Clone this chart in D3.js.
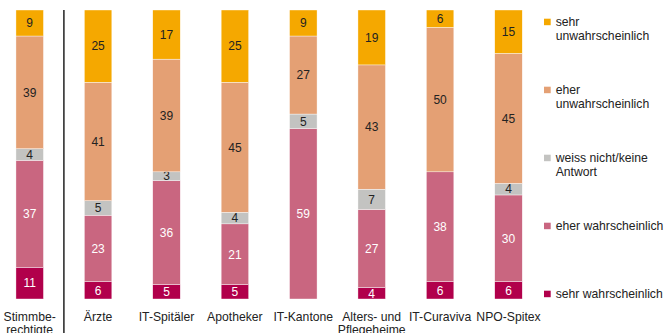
<!DOCTYPE html>
<html>
<head>
<meta charset="utf-8">
<script src="https://cdn.jsdelivr.net/npm/d3@7"></script>
<style>
  html, body { margin: 0; padding: 0; background: #fff; }
  svg { display: block; font-family: "Liberation Sans", Arial, sans-serif; }
</style>
</head>
<body>
<svg id="chart" width="667" height="333"></svg>
<script>
// Groups (two-line labels split with "\n")
const categories = [
  "Stimmbe-\nrechtigte", "Ärzte", "IT-Spitäler", "Apotheker",
  "IT-Kantone", "Alters- und\nPflegeheime", "IT-Curaviva", "NPO-Spitex"
];

// Answer shares in percent, one array per answer
const sehrWahrscheinlich   = [11, 6, 5, 5, 0, 4, 6, 6];
const eherWahrscheinlich   = [37, 23, 36, 21, 59, 27, 38, 30];
const weissNicht           = [4, 5, 3, 4, 5, 7, 0, 4];
const eherUnwahrscheinlich = [39, 41, 39, 45, 27, 43, 50, 45];
const sehrUnwahrscheinlich = [9, 25, 17, 25, 9, 19, 6, 15];

// Stack order, bottom to top
const seriesKeys = ["sw", "ew", "wn", "eu", "su"];
const seriesLabels = {
  sw: ["sehr wahrscheinlich"],
  ew: ["eher wahrscheinlich"],
  wn: ["weiss nicht/keine", "Antwort"],
  eu: ["eher", "unwahrscheinlich"],
  su: ["sehr", "unwahrscheinlich"]
};
const colors = { sw: "#B1004B", ew: "#C96680", wn: "#C3C3C1", eu: "#E4A074", su: "#F5A800" };
const textColors = { sw: "#fff", ew: "#fff", wn: "#222", eu: "#222", su: "#222" };

const rows = categories.map((c, i) => ({
  cat: c,
  sw: sehrWahrscheinlich[i],
  ew: eherWahrscheinlich[i],
  wn: weissNicht[i],
  eu: eherUnwahrscheinlich[i],
  su: sehrUnwahrscheinlich[i]
}));

const svg = d3.select("#chart");

const x = d3.scaleBand()
  .domain(categories)
  .range([-4.5, 542.7])
  .paddingInner(0.598)
  .paddingOuter(0.299);

const y = d3.scaleLinear().domain([0, 100]).range([299, 10]);

const stacked = d3.stack().keys(seriesKeys)(rows);

const layers = svg.append("g").selectAll("g")
  .data(stacked)
  .join("g")
  .attr("fill", d => colors[d.key]);

layers.selectAll("rect")
  .data(d => d.map(p => ({ key: d.key, p })))
  .join("rect")
  .attr("x", d => x(d.p.data.cat))
  .attr("y", d => y(d.p[1]))
  .attr("width", x.bandwidth())
  .attr("height", d => y(d.p[0]) - y(d.p[1]))
  .attr("stroke", "#fff")
  .attr("stroke-width", 0.4);

// Value labels inside the segments
layers.selectAll("text")
  .data(d => d.map(p => ({ key: d.key, p })).filter(d => d.p[1] - d.p[0] > 0))
  .join("text")
  .attr("x", d => x(d.p.data.cat) + x.bandwidth() / 2)
  .attr("y", d => (y(d.p[0]) + y(d.p[1])) / 2 + 4.3)
  .attr("text-anchor", "middle")
  .attr("font-size", 12)
  .attr("fill", d => textColors[d.key])
  .text(d => d.p[1] - d.p[0]);

// Category labels under the bars
const catLabels = svg.append("g").selectAll("text")
  .data(categories)
  .join("text")
  .attr("x", d => x(d) + x.bandwidth() / 2)
  .attr("y", 321)
  .attr("text-anchor", "middle")
  .attr("font-size", 12.2)
  .attr("fill", "#222");

catLabels.selectAll("tspan")
  .data(d => d.split("\n").map((t, i) => ({ t, i, c: d })))
  .join("tspan")
  .attr("x", d => x(d.c) + x.bandwidth() / 2)
  .attr("dy", d => d.i === 0 ? 0 : 12.5)
  .text(d => d.t);

// Separator between the voters and the stakeholder groups
const sepX = (x(categories[0]) + x.bandwidth() + x(categories[1])) / 2;
svg.append("line")
  .attr("x1", sepX).attr("x2", sepX)
  .attr("y1", 10).attr("y2", 333)
  .attr("stroke", "#222")
  .attr("stroke-width", 1.5);

// Legend, top to bottom
const legendKeys = seriesKeys.slice().reverse();
const legendY = d3.scalePoint().domain(legendKeys).range([22, 294]);

const legend = svg.append("g").selectAll("g")
  .data(legendKeys)
  .join("g")
  .attr("transform", d => `translate(544,${legendY(d)})`);

legend.append("rect")
  .attr("x", 0).attr("y", -3.3)
  .attr("width", 6.7).attr("height", 6.5)
  .attr("fill", d => colors[d]);

legend.append("text")
  .attr("x", 11.7)
  .attr("y", 3.8)
  .attr("font-size", 12.2)
  .attr("fill", "#222")
  .selectAll("tspan")
  .data(d => seriesLabels[d].map((t, i) => ({ t, i })))
  .join("tspan")
  .attr("x", 11.7)
  .attr("dy", d => d.i === 0 ? 0 : 14)
  .text(d => d.t);
</script>
</body>
</html>
